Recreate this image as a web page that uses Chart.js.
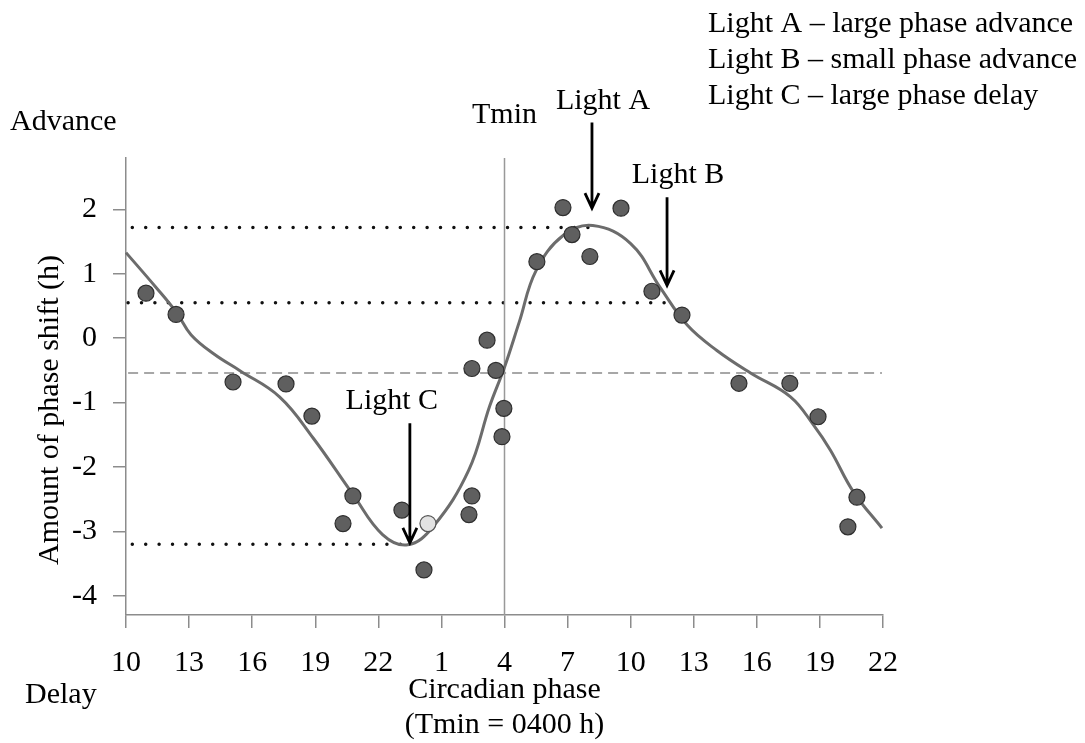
<!DOCTYPE html>
<html>
<head>
<meta charset="utf-8">
<script src="https://cdn.jsdelivr.net/npm/chart.js@4/dist/chart.umd.min.js"></script>
<style>
    html, body { margin: 0; padding: 0; background: #fff; }
    #wrap { width: 1085px; height: 743px; }
</style>
</head>
<body>
<div id="wrap"><canvas id="prc"></canvas></div>
<script>
// Phase is plotted twice: 10 h through 22 h of the next day, so x runs 10..46
const xTickValues = [10, 13, 16, 19, 22, 25, 28, 31, 34, 37, 40, 43, 46];
const xTickLabels = ['10', '13', '16', '19', '22', '1', '4', '7', '10', '13', '16', '19', '22'];
const yTickValues = [-4, -3, -2, -1, 0, 1, 2];

// Measured phase shifts (h)
const shiftPhase = [10.95, 12.38, 15.09, 17.61, 18.84, 20.79, 20.32, 23.12, 24.17, 26.31, 26.45,
    26.45, 27.17, 27.59, 27.97, 27.88, 29.54, 30.78, 31.21, 32.06, 33.54, 35.01, 36.44,
    39.15, 41.57, 42.91, 44.76, 44.33];
const shiftHours = [0.70, 0.37, -0.68, -0.71, -1.21, -2.45, -2.88, -2.67, -3.60, -2.74, -2.45,
    -0.47, -0.03, -0.50, -1.09, -1.53, 1.19, 2.03, 1.61, 1.27, 2.02, 0.73, 0.36,
    -0.70, -0.70, -1.22, -2.47, -2.93];

// Light-coloured symbol
const openPhase = [24.36];
const openHours = [-2.88];

// Fitted response curve
const fitPhase = [10.0, 11.4, 12.4, 13.1, 14.2, 15.4, 17.3, 18.9, 20.8, 22.2, 23.4, 24.6, 26.3,
    27.3, 28.0, 28.7, 29.5, 30.8, 32.2, 34.0, 35.4, 36.7, 38.1, 39.7, 41.6, 42.7, 43.5, 44.6, 45.95];
const fitHours = [1.33, 0.80, 0.40, 0.05, -0.25, -0.50, -0.91, -1.55, -2.43, -3.05, -3.21, -2.93, -2.05,
    -1.05, -0.45, 0.25, 1.05, 1.60, 1.75, 1.47, 0.79, 0.20, -0.19, -0.54, -0.91, -1.35, -1.74, -2.39, -2.95];

// Reference lines: Tmin, the three light responses and the zero-shift level
const tminPhase = 28;
const levelHours = [1.72, 0.55, -3.20];
const levelStart = [10.3, 10.1, 10.3];
const levelEnd = [32.1, 35.7, 23.3];
const baselineHours = -0.54;
const baselineSpan = [10.1, 45.95];

// Light pulses marked with arrows
const arrowLabels = ['Light A', 'Light B', 'Light C'];
const arrowPhase = [32.16, 35.73, 23.5];
const arrowTop = [3.35, 2.19, -1.32];
const arrowTip = [2.02, 0.82, -3.18];

const legendLines = [
    'Light A \u2013 large phase advance',
    'Light B \u2013 small phase advance',
    'Light C \u2013 large phase delay'
];

const SERIF = '"Liberation Serif", "DejaVu Serif", serif';
const AXIS_GREY = '#8c8c8c';

const toPoints = (xs, ys) => xs.map((x, i) => ({ x: x, y: ys[i] }));

const datasets = [
    {
        data: toPoints(shiftPhase, shiftHours),
        pointRadius: 8,
        backgroundColor: '#5f5f5f',
        borderColor: '#2f2f2f',
        borderWidth: 1.2,
        showLine: false,
        clip: false,
        order: 0
    },
    {
        data: toPoints(openPhase, openHours),
        pointRadius: 8,
        backgroundColor: '#e2e2e2',
        borderColor: '#555',
        borderWidth: 1.2,
        showLine: false,
        clip: false,
        order: 0
    },
    {
        data: toPoints(fitPhase, fitHours),
        showLine: true,
        pointRadius: 0,
        borderColor: '#6c6c6c',
        borderWidth: 3,
        tension: 0.4,
        clip: false,
        order: 1
    },
    {
        data: [{ x: tminPhase, y: 2.8 }, { x: tminPhase, y: -4.3 }],
        showLine: true,
        pointRadius: 0,
        borderColor: '#999',
        borderWidth: 1.5,
        order: 2
    },
    {
        data: [{ x: baselineSpan[0], y: baselineHours }, { x: baselineSpan[1], y: baselineHours }],
        showLine: true,
        pointRadius: 0,
        borderColor: '#8a8a8a',
        borderWidth: 1.5,
        borderDash: [10, 6],
        order: 2
    }
];

// dotted lines at the three light responses
levelHours.forEach((h, i) => {
    datasets.push({
        data: [{ x: levelStart[i], y: h }, { x: levelEnd[i], y: h }],
        showLine: true,
        pointRadius: 0,
        borderColor: '#111',
        borderWidth: 3.5,
        borderCapStyle: 'round',
        borderDash: [0, 13.4],
        order: 3
    });
});

// text labels, arrows and the rotated y title
const annotations = {
    id: 'annotations',
    afterDraw(chart) {
        const { ctx, scales: { x, y } } = chart;
        ctx.save();
        ctx.fillStyle = '#000';
        ctx.strokeStyle = '#000';
        ctx.font = '30px ' + SERIF;
        ctx.textBaseline = 'alphabetic';

        // arrows with open heads
        const labelShift = [11, 11, -18];
        ctx.lineWidth = 2.8;
        arrowLabels.forEach((label, i) => {
            const px = x.getPixelForValue(arrowPhase[i]);
            const top = y.getPixelForValue(arrowTop[i]);
            const tip = y.getPixelForValue(arrowTip[i]);
            ctx.beginPath();
            ctx.moveTo(px, top);
            ctx.lineTo(px, tip - 1);
            ctx.moveTo(px - 7, tip - 15);
            ctx.lineTo(px, tip);
            ctx.lineTo(px + 7, tip - 15);
            ctx.stroke();
            ctx.textAlign = 'center';
            ctx.fillText(label, px + labelShift[i], top - 14);
        });

        ctx.textAlign = 'center';
        ctx.fillText('Tmin', x.getPixelForValue(tminPhase), 123);

        ctx.textAlign = 'left';
        ctx.fillText('Advance', 10, 130);
        ctx.fillText('Delay', 25, 703);
        legendLines.forEach((line, i) => ctx.fillText(line, 708, 32 + i * 36));

        ctx.translate(50, 410);
        ctx.rotate(-Math.PI / 2);
        ctx.textAlign = 'center';
        ctx.textBaseline = 'middle';
        ctx.fillText('Amount of phase shift (h)', 0, 0);
        ctx.restore();
    }
};

new Chart(document.getElementById('prc'), {
    type: 'scatter',
    data: { datasets: datasets },
    options: {
        responsive: true,
        maintainAspectRatio: false,
        animation: false,
        events: [],
        layout: { padding: { left: 0, top: 158, right: 202, bottom: 0 } },
        plugins: {
            legend: { display: false },
            tooltip: { enabled: false }
        },
        scales: {
            x: {
                type: 'linear',
                min: 10,
                max: 46,
                afterBuildTicks: scale => { scale.ticks = xTickValues.map(v => ({ value: v })); },
                afterFit: scale => { scale.height = 128; },
                grid: { drawOnChartArea: false, drawTicks: true, tickLength: 13, color: AXIS_GREY, lineWidth: 1.5 },
                border: { color: AXIS_GREY, width: 1.5 },
                ticks: {
                    color: '#000',
                    font: { family: SERIF, size: 30 },
                    padding: 17,
                    maxRotation: 0,
                    autoSkip: false,
                    callback: (value, index) => xTickLabels[index]
                },
                title: {
                    display: true,
                    text: ['Circadian phase', '(Tmin = 0400 h)'],
                    color: '#000',
                    font: { family: SERIF, size: 30, lineHeight: 1.17 },
                    padding: { top: 0, bottom: 0 }
                }
            },
            y: {
                min: -4.3,
                max: 2.8,
                afterBuildTicks: scale => { scale.ticks = yTickValues.map(v => ({ value: v })); },
                afterFit: scale => { scale.width = 126; },
                grid: { drawOnChartArea: false, drawTicks: true, tickLength: 13, color: AXIS_GREY, lineWidth: 1.5 },
                border: { color: AXIS_GREY, width: 1.5 },
                ticks: {
                    color: '#000',
                    font: { family: SERIF, size: 30 },
                    padding: 16
                }
            }
        }
    },
    plugins: [annotations]
});
</script>
</body>
</html>
